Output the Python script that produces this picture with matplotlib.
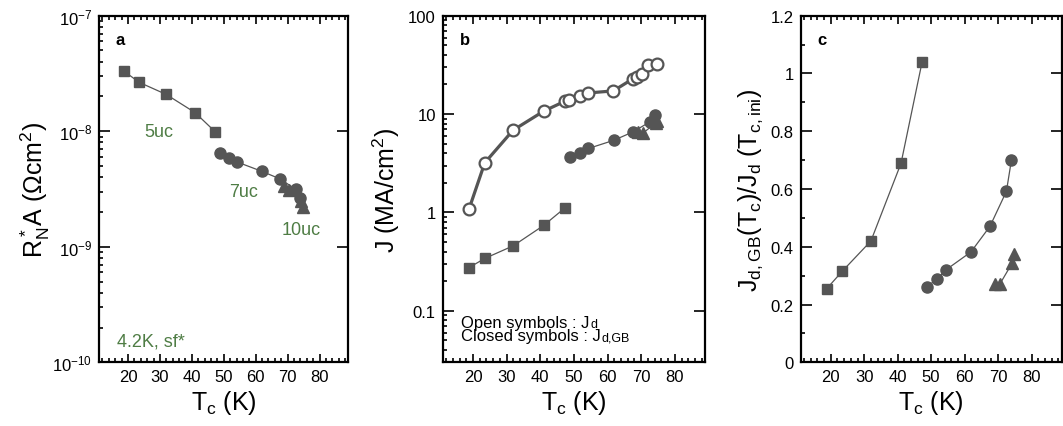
import numpy as np
import matplotlib
matplotlib.use("Agg")
import matplotlib.pyplot as plt
from matplotlib.ticker import MultipleLocator, LogLocator, FixedLocator, FuncFormatter, NullFormatter

plt.rcParams['font.family'] = ['Liberation Sans', 'DejaVu Sans']
plt.rcParams['mathtext.default'] = 'regular'

# Tc values (K) for the three sample series
Tc_sq = [18.8, 23.5, 32.0, 41.0, 47.3]
Tc_ci = [48.7, 51.7, 54.3, 61.9, 67.6, 72.5, 74.0]
Tc_tr = [69.0, 70.5, 74.3, 74.8]

# panel a : RN*A (Ohm cm^2)
RA_sq = [3.3e-8, 2.65e-8, 2.08e-8, 1.45e-8, 9.9e-9]
RA_ci = [6.45e-9, 5.85e-9, 5.4e-9, 4.5e-9, 3.87e-9, 3.15e-9, 2.65e-9]
RA_tr = [3.35e-9, 3.1e-9, 2.5e-9, 2.2e-9]

# panel b : open symbols Jd
Tc_open = [18.8, 23.5, 31.9, 41.0, 47.3, 48.6, 51.8, 54.3, 61.7, 67.6, 68.8, 70.1, 72.1, 74.6]
Jd_open = [1.08, 3.2, 6.85, 10.7, 13.5, 14.0, 15.3, 16.4, 17.2, 22.9, 23.9, 25.8, 31.8, 32.3]
# panel b : closed symbols Jd,GB
J_sq = [0.275, 0.341, 0.459, 0.738, 1.11]
J_ci = [3.62, 4.04, 4.47, 5.42, 6.6, 8.3, 9.9]
J_tr = [6.5, 6.4, 8.1, 8.6]

# panel c : Jd,GB(Tc)/Jd(Tc,ini)
R_sq = [0.255, 0.316, 0.420, 0.689, 1.040]
R_ci = [0.262, 0.287, 0.319, 0.382, 0.471, 0.592, 0.700]
R_tr = [0.27, 0.27, 0.345, 0.374]

gray = '#555555'
green = '#4f7d45'

fig = plt.figure(figsize=(10.63, 4.27), dpi=100)
H = 0.8117
B = 0.1492
axa = fig.add_axes([0.0934, B, 0.2342, H])
axb = fig.add_axes([0.4165, B, 0.2468, H])
axc = fig.add_axes([0.7532, B, 0.2455, H])


def style(ax):
    ax.set_xlim(11, 89)
    ax.xaxis.set_major_locator(FixedLocator([20, 30, 40, 50, 60, 70, 80]))
    ax.xaxis.set_minor_locator(MultipleLocator(2))
    ax.tick_params(which='both', direction='in', top=True, right=True, labelsize=12, width=1.2)
    ax.tick_params(which='major', length=6, pad=5)
    ax.tick_params(which='minor', length=3)
    ax.tick_params(axis='y', which='major', length=8)
    ax.tick_params(axis='y', which='minor', right=False)
    for s in ax.spines.values():
        s.set_linewidth(1.6)
    ax.set_xlabel('T$_c$ (K)', fontsize=18, labelpad=3)


def series(ax, a, b, c):
    ax.plot(Tc_sq, a, '-s', color=gray, ms=7.5, lw=0.9)
    ax.plot(Tc_ci, b, '-o', color=gray, ms=8, lw=0.9)
    ax.plot(Tc_tr, c, '-^', color=gray, ms=8.5, lw=0.9)


# ---- a ----
style(axa)
series(axa, RA_sq, RA_ci, RA_tr)
axa.set_yscale('log')
axa.set_ylim(1e-10, 1e-7)
axa.yaxis.set_minor_locator(LogLocator(subs=np.arange(2, 10)))
axa.yaxis.set_minor_formatter(NullFormatter())
axa.set_ylabel('R$^*_N$A (Ωcm$^2$)', fontsize=18, labelpad=0)
axa.text(0.065, 0.93, 'a', transform=axa.transAxes, fontsize=12, fontweight='bold', va='center')
axa.text(29.8, 9.9e-9, '5uc', color=green, fontsize=13, ha='center', va='center')
axa.text(56.1, 3.0e-9, '7uc', color=green, fontsize=13, ha='center', va='center')
axa.text(74.4, 1.42e-9, '10uc', color=green, fontsize=13, ha='center', va='center')
axa.text(16.5, 1.53e-10, '4.2K, sf*', color=green, fontsize=13, ha='left', va='center')

# ---- b ----
style(axb)
axb.plot(Tc_open, Jd_open, '-o', color=gray, mfc='white', mec=gray, mew=1.6, ms=8.5, lw=2.3)
series(axb, J_sq, J_ci, J_tr)
axb.set_yscale('log')
axb.set_ylim(0.03, 100)
axb.yaxis.set_major_locator(FixedLocator([0.1, 1, 10, 100]))
axb.yaxis.set_major_formatter(FuncFormatter(lambda v, p: '%g' % v))
axb.yaxis.set_minor_locator(LogLocator(subs=np.arange(2, 10)))
axb.yaxis.set_minor_formatter(NullFormatter())
axb.set_ylabel('J (MA/cm$^2$)', fontsize=18, labelpad=4)
axb.text(0.065, 0.93, 'b', transform=axb.transAxes, fontsize=12, fontweight='bold', va='center')
t1 = axb.text(0.07, 0.103, 'Open symbols : J', transform=axb.transAxes, fontsize=12, va='baseline')
t2 = axb.text(0.07, 0.063, 'Closed symbols : J', transform=axb.transAxes, fontsize=12, va='baseline')
axb.annotate('d', xy=(1, 0), xycoords=t1, xytext=(0.5, 2.2), textcoords='offset points',
             fontsize=9, va='baseline', ha='left')
axb.annotate('d,GB', xy=(1, 0), xycoords=t2, xytext=(0.5, 2.2), textcoords='offset points',
             fontsize=9, va='baseline', ha='left')

# ---- c ----
style(axc)
series(axc, R_sq, R_ci, R_tr)
axc.set_ylim(0, 1.2)
axc.yaxis.set_major_locator(MultipleLocator(0.2))
axc.yaxis.set_minor_locator(MultipleLocator(0.1))
axc.yaxis.set_major_formatter(FuncFormatter(lambda v, p: '%g' % round(v, 1)))
axc.set_ylabel('J$_{d,GB}$(T$_c$)/J$_d$ (T$_{c,ini}$)', fontsize=18, labelpad=4)
axc.text(0.065, 0.93, 'c', transform=axc.transAxes, fontsize=12, fontweight='bold', va='center')

fig.savefig('out.png', dpi=100)
